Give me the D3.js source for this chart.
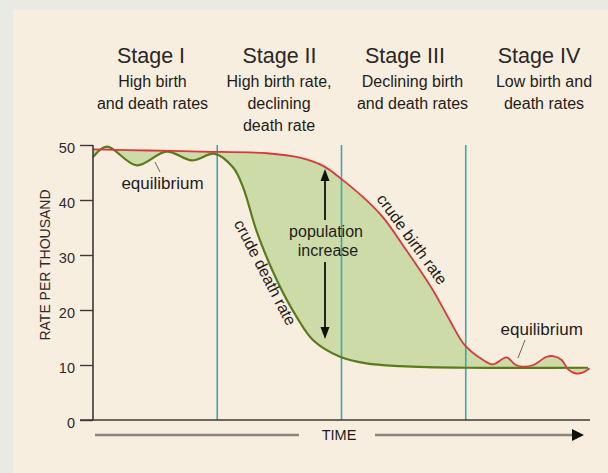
<!DOCTYPE html>
<html><head><meta charset="utf-8">
<script src="https://cdn.jsdelivr.net/npm/d3@7"></script>
<style>
html,body{margin:0;padding:0;background:#eaeae4;}
svg{display:block;font-family:"Liberation Sans",Arial,Helvetica,sans-serif;}
</style></head>
<body>
<svg id="chart" width="608" height="473"></svg>
<script>
// ---- data ----
const stageTitles = ["Stage I", "Stage II", "Stage III", "Stage IV"];
const stageDescriptions = [
  ["High birth", "and death rates"],
  ["High birth rate,", "declining", "death rate"],
  ["Declining birth", "and death rates"],
  ["Low birth and", "death rates"]
];
const stageBoundaries = [25, 50, 75];          // time units (0-100)
const yTicks = [0, 10, 20, 30, 40, 50];
const yTitle = "RATE PER THOUSAND";
const xTitle = "TIME";

const birthTime = [0, 11.5, 21.5, 35, 41.6, 46.3, 50, 55.1, 58.4, 63.1, 68.4, 71.8, 74.8, 78.5, 80.5, 83.2, 84.9, 86.3, 88.6, 91.3, 92.6, 94.3, 95.6, 97, 98.5, 99.9];
const birthRate = [49.2, 49.0, 48.8, 48.5, 47.7, 46.2, 43.8, 39.9, 36.8, 30.8, 23.6, 18.1, 13.6, 10.9, 10.1, 11.4, 10.1, 9.7, 10.0, 11.5, 11.6, 10.9, 9.2, 8.5, 8.6, 9.4];

const deathTime = [0, 2.8, 8.8, 14.8, 19.9, 24.5, 28.2, 30.2, 32.9, 37, 41, 44.3, 49.7, 55, 61.8, 75.2, 99.6];
const deathRate = [47.8, 49.7, 46.3, 48.8, 47.2, 48.4, 45.9, 42.3, 34.4, 25.4, 18.7, 14.5, 11.5, 10.3, 9.8, 9.5, 9.5];

// ---- layout ----
const svg = d3.select("#chart");
const x = d3.scaleLinear().domain([0, 100]).range([93, 590]);
const y = d3.scaleLinear().domain([0, 50]).range([420, 145]);

svg.append("rect").attr("x", 13).attr("y", 10).attr("width", 595).attr("height", 463).attr("fill", "#f8eedf");

const birthPts = birthTime.map((t, i) => [x(t), y(birthRate[i])]);
const deathPts = deathTime.map((t, i) => [x(t), y(deathRate[i])]);
const line = d3.line().curve(d3.curveCatmullRom.alpha(0.5));

// fill between curves
const fillPath = line(birthPts) + line(deathPts.slice().reverse()).replace(/^M/, "L") + "Z";
svg.append("path").attr("d", fillPath).attr("fill", "#cddba9");

// stage boundary lines
svg.selectAll(".stage").data(stageBoundaries).join("line")
  .attr("x1", d => x(d)).attr("x2", d => x(d))
  .attr("y1", y(50)).attr("y2", y(0))
  .attr("stroke", "#3ea5ad").attr("stroke-width", 1.6);

// curves
svg.append("path").attr("d", line(deathPts)).attr("fill", "none").attr("stroke", "#5a7a1c").attr("stroke-width", 2.2);
svg.append("path").attr("d", line(birthPts)).attr("fill", "none").attr("stroke", "#d8393c").attr("stroke-width", 1.8);

// y axis
const yAxis = d3.axisLeft(y).tickValues(yTicks).tickSize(13).tickPadding(5);
const gy = svg.append("g").attr("transform", `translate(${x(0)},0)`).call(yAxis);
gy.select(".domain").attr("stroke", "#3d3935").attr("stroke-width", 1.6).attr("d", `M0,${y(50)}V${y(0)}`);
gy.selectAll(".tick line").attr("stroke", "#3d3935").attr("stroke-width", 1.4);
gy.selectAll(".tick text").attr("font-size", 14.5).attr("dy", "0.5em").attr("fill", "#2d2a28").attr("font-family", "Liberation Sans, Arial, sans-serif");

// x axis (baseline)
const xAxis = d3.axisBottom(x).tickValues([]).tickSizeOuter(0);
const gx = svg.append("g").attr("transform", `translate(0,${y(0)})`).call(xAxis);
gx.select(".domain").attr("stroke", "#3d3935").attr("stroke-width", 1.6).attr("d", `M${x(0) - 13},0H${x(100)}`);

// y title
svg.append("text").attr("transform", `translate(50,265) rotate(-90)`)
  .attr("text-anchor", "middle").attr("font-size", 14).attr("fill", "#2d2a28").text(yTitle);

// time arrow
svg.append("line").attr("x1", x(0) + 2).attr("x2", 299).attr("y1", 435).attr("y2", 435).attr("stroke", "#8d847d").attr("stroke-width", 2.4);
svg.append("line").attr("x1", 375).attr("x2", 574).attr("y1", 435).attr("y2", 435).attr("stroke", "#8d847d").attr("stroke-width", 2.4);
svg.append("path").attr("d", "M572,429L584,435L572,441Z").attr("fill", "#111");
svg.append("text").attr("x", 339).attr("y", 440).attr("text-anchor", "middle").attr("font-size", 14.5).attr("fill", "#1e1c1a").text(xTitle);

// stage headers
const titleX = [151, 279.5, 405, 539];
const descX = [152.5, 279, 412.5, 544];
stageTitles.forEach((t, i) => {
  svg.append("text").attr("x", titleX[i]).attr("y", 63).attr("text-anchor", "middle")
    .attr("font-size", 21.5).attr("fill", "#2a2725").text(t);
  stageDescriptions[i].forEach((s, j) => {
    svg.append("text").attr("x", descX[i]).attr("y", 87 + j * 21.8).attr("text-anchor", "middle")
      .attr("font-size", 16).attr("fill", "#1e1c1a").text(s);
  });
});

// curve labels
svg.append("text").attr("transform", "translate(411,240) rotate(54)").attr("text-anchor", "middle")
  .attr("dominant-baseline", "middle").attr("font-size", 16).attr("fill", "#1e1c1a").text("crude birth rate");
svg.append("text").attr("transform", "translate(264,273) rotate(62.7)").attr("text-anchor", "middle")
  .attr("dominant-baseline", "middle").attr("font-size", 16).attr("fill", "#1e1c1a").text("crude death rate");

// equilibrium labels
svg.append("text").attr("x", 162.5).attr("y", 189).attr("text-anchor", "middle").attr("font-size", 17).attr("fill", "#1e1c1a").text("equilibrium");
svg.append("line").attr("x1", 155).attr("y1", 162).attr("x2", 160).attr("y2", 172).attr("stroke", "#666").attr("stroke-width", 1);
svg.append("text").attr("x", 541.7).attr("y", 335).attr("text-anchor", "middle").attr("font-size", 17).attr("fill", "#1e1c1a").text("equilibrium");
svg.append("line").attr("x1", 525).attr("y1", 340).attr("x2", 518).attr("y2", 358).attr("stroke", "#666").attr("stroke-width", 1);

// population increase double arrow
const ax = 325;
svg.append("line").attr("x1", ax).attr("x2", ax).attr("y1", 178).attr("y2", 220).attr("stroke", "#111").attr("stroke-width", 1.8);
svg.append("line").attr("x1", ax).attr("x2", ax).attr("y1", 262).attr("y2", 330).attr("stroke", "#111").attr("stroke-width", 1.8);
svg.append("path").attr("d", `M${ax},169L${ax - 4.5},181L${ax + 4.5},181Z`).attr("fill", "#111");
svg.append("path").attr("d", `M${ax},339L${ax - 4.5},327L${ax + 4.5},327Z`).attr("fill", "#111");
svg.append("text").attr("x", ax + 1).attr("y", 237).attr("text-anchor", "middle").attr("font-size", 16).attr("fill", "#1e1c1a").text("population");
svg.append("text").attr("x", ax + 3).attr("y", 256).attr("text-anchor", "middle").attr("font-size", 16).attr("fill", "#1e1c1a").text("increase");
</script>
</body></html>
